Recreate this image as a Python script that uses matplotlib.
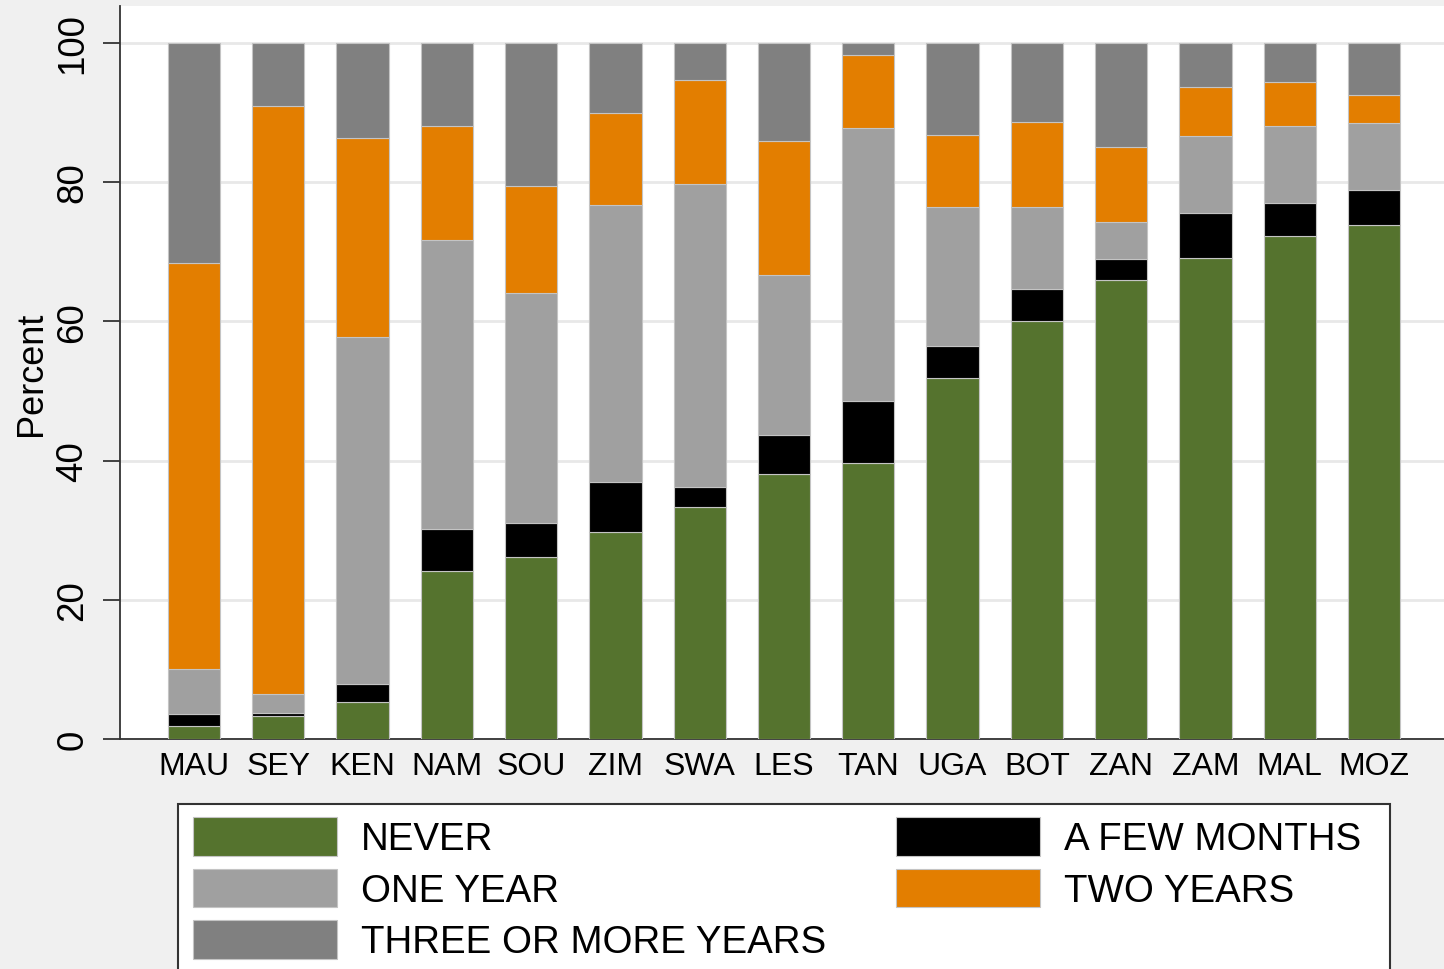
import numpy as np
import matplotlib
matplotlib.use("Agg")
import matplotlib.pyplot as plt
from matplotlib.patches import Rectangle

plt.rcParams['font.family'] = ['Liberation Sans', 'DejaVu Sans']

countries = ['MAU', 'SEY', 'KEN', 'NAM', 'SOU', 'ZIM', 'SWA', 'LES',
             'TAN', 'UGA', 'BOT', 'ZAN', 'ZAM', 'MAL', 'MOZ']

# cumulative tops (percent)
top_never = [1.9, 3.35, 5.3, 24.2, 26.2, 29.8, 33.4, 38.1, 39.6, 51.8, 60.1, 66.0, 69.1, 72.2, 73.9]
top_months = [3.6, 3.8, 7.9, 30.1, 31.0, 36.9, 36.2, 43.6, 48.6, 56.4, 64.6, 68.9, 75.5, 77.0, 78.8]
top_one = [10.0, 6.4, 57.8, 71.7, 64.1, 76.7, 79.7, 66.7, 87.8, 76.4, 76.4, 74.3, 86.6, 88.0, 88.5]
top_two = [68.4, 90.9, 86.4, 88.0, 79.5, 89.9, 94.7, 85.9, 98.2, 86.8, 88.7, 85.0, 93.7, 94.4, 92.5]

never = np.array(top_never)
few_months = np.array(top_months) - np.array(top_never)
one_year = np.array(top_one) - np.array(top_months)
two_years = np.array(top_two) - np.array(top_one)
three_plus = 100 - np.array(top_two)

green = '#55732e'
black = '#000000'
lgray = '#a0a0a0'
orange = '#e37e00'
dgray = '#808080'
edge = '#c4c4c4'

fig = plt.figure(figsize=(14.44, 9.70), dpi=100)
fig.patch.set_facecolor('#f0f0f0')
ax = fig.add_axes([120/1444, 1 - 740/970, 1 - 120/1444, (740 - 7)/970])
ax.set_facecolor('white')

x = np.arange(len(countries))
w = 0.62
b0 = np.zeros(len(countries))
h_never = ax.bar(x, never, w, bottom=b0, color=green, edgecolor=edge, linewidth=0.8, zorder=3)
b0 = b0 + never
h_months = ax.bar(x, few_months, w, bottom=b0, color=black, edgecolor=edge, linewidth=0.8, zorder=3)
b0 = b0 + few_months
h_one = ax.bar(x, one_year, w, bottom=b0, color=lgray, edgecolor=edge, linewidth=0.8, zorder=3)
b0 = b0 + one_year
h_two = ax.bar(x, two_years, w, bottom=b0, color=orange, edgecolor=edge, linewidth=0.8, zorder=3)
b0 = b0 + two_years
h_three = ax.bar(x, three_plus, w, bottom=b0, color=dgray, edgecolor=edge, linewidth=0.8, zorder=3)

ax.set_xlim(-0.878, 14.83)
ax.set_ylim(0, 105.3)
ax.set_yticks([0, 20, 40, 60, 80, 100])
ax.set_yticklabels(['0', '20', '40', '60', '80', '100'], rotation=90, va='center')
ax.set_xticks(x)
ax.set_xticklabels(countries)
ax.tick_params(axis='y', labelsize=26.5, length=12, width=1.3, pad=9.5, color='#333333')
ax.tick_params(axis='x', labelsize=23, length=0, pad=9)
ax.grid(axis='y', color='#e8e8e8', linewidth=2, zorder=0)
ax.set_axisbelow(True)
for s in ['top', 'right']:
    ax.spines[s].set_visible(False)
for s in ['left', 'bottom']:
    ax.spines[s].set_color('#333333')
    ax.spines[s].set_linewidth(1.3)
ax.set_ylabel('Percent', fontsize=26, labelpad=4.5)

# legend box (runs past the bottom edge of the figure)
fig.patches.append(Rectangle((178/1444, 1 - 1000/970), (1390 - 178)/1444, 195/970,
                             transform=fig.transFigure, facecolor='white',
                             edgecolor='#333333', linewidth=1.5, zorder=0))

handles = [h_never, h_one, h_three, h_months, h_two]
labels = ['NEVER', 'ONE YEAR', 'THREE OR MORE YEARS', 'A FEW MONTHS', 'TWO YEARS']
leg = fig.legend(handles, labels, ncol=2, loc='upper left',
                 bbox_to_anchor=(193/1444, 1 - 818/970),
                 borderaxespad=0, borderpad=0, fontsize=27.7,
                 handlelength=3.75, handleheight=1.17, handletextpad=0.62,
                 labelspacing=0.29, columnspacing=1.8, frameon=False)

fig.savefig('out.png', dpi=100, facecolor=fig.get_facecolor())
